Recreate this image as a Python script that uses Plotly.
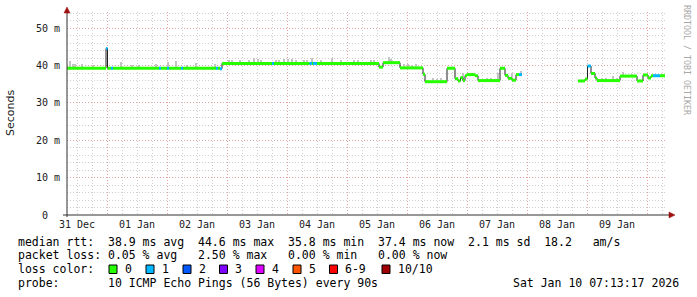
import plotly.graph_objects as go
import pandas as pd

# ---------------- data ----------------
BASE = pd.Timestamp("2026-01-01 00:00:00")
# median rtt change points: hours relative to 01 Jan 00:00, value in ms, loss count
med_hours = [-16.0, -0.4, 0.2, 1.6, 2.4, 20.8, 21.6, 24.0, 24.8, 29.6, 30.4, 43.6, 44.4, 45.2,
             46.0, 66.0, 66.8, 81.0, 82.0, 82.4, 84.0, 108.8, 110.4, 117.2, 126.4, 127.2,
             136.0, 139.2, 140.4, 141.4, 142.4, 143.2, 144.0, 147.2, 148.4, 157.2, 159.2,
             160.4, 162.0, 163.6, 164.8, 166.0, 188.4, 191.2, 192.2, 193.6, 195.2, 196.0,
             205.2, 212.0, 214.4, 216.4, 217.6, 218.4, 221.2]
med_ms = [39.3, 44.6, 39.3, 39.3, 39.3, 39.3, 39.3, 39.3, 39.3, 39.3, 39.3, 39.3, 39.3, 39.2,
          40.6, 40.6, 40.6, 40.6, 40.6, 40.6, 40.6, 39.6, 40.8, 39.4, 37.7, 35.7,
          39.3, 36.5, 35.9, 36.8, 36.0, 37.3, 37.6, 37.3, 36.0, 39.3, 37.4,
          36.6, 36.1, 37.6, 37.6, None, 35.9, 36.4, 39.9, 37.9, 36.7, 36.0,
          37.2, 35.9, 37.5, 36.7, 37.3, 37.3, 37.3]
med_loss = [0, 1, 0, 1, 0, 1, 0, 1, 0, 1, 0, 1, 0, 1,
            0, 1, 0, 1, 0, 1, 0, 0, 0, 0, 0, 0,
            0, 0, 0, 0, 0, 0, 0, 0, 0, 0, 0,
            0, 0, 0, 1, 0, 0, 0, 1, 0, 0, 0,
            0, 0, 0, 0, 0, 1, 0]
data_end_hour = 223.2

# smoke (ping spread) peaks: hour, top value in ms
smoke_hours = [-14.8, -13.6, -13.0, -10.2, -5.6, 5.6, 10.0, 12.8, 19.6, 24.4, 27.6, 32.0, 35.6, 43.2,
               48.8, 50.0, 53.2, 56.8, 58.8, 60.4, 61.6, 67.6, 68.8, 70.8, 72.4, 74.0, 75.6,
               78.8, 80.0, 82.0, 85.6, 90.0, 93.6, 98.8, 100.4, 105.6, 106.8,
               112.8, 113.6, 118.8, 120.4, 122.0, 123.6, 130.4, 132.0, 133.6, 142.4,
               152.0, 153.6, 156.4, 162.0, 165.6,
               198.0, 199.6, 202.4, 204.0, 206.4, 210.0, 219.2, 222.0]
smoke_top = [41.2, 40.4, 40.4, 40.4, 40.2, 41.0, 40.3, 40.3, 40.4, 41.0, 41.2, 40.3, 40.7, 40.4,
             41.5, 41.4, 41.4, 41.6, 42.0, 41.7, 41.6, 41.5, 41.5, 41.8, 41.9, 41.7, 41.6,
             41.6, 41.5, 42.0, 41.4, 42.0, 41.4, 41.6, 41.6, 41.5, 41.6,
             42.4, 41.8, 40.4, 40.4, 40.3, 40.4, 36.6, 36.5, 36.6, 37.9,
             36.6, 36.6, 37.9, 38.0, 38.6,
             36.6, 36.6, 37.2, 36.6, 38.2, 37.8, 37.8, 37.8]

day_labels = ["31 Dec", "01 Jan", "02 Jan", "03 Jan", "04 Jan", "05 Jan", "06 Jan", "07 Jan", "08 Jan", "09 Jan"]
day_dates = ["2025-12-31", "2026-01-01", "2026-01-02", "2026-01-03", "2026-01-04", "2026-01-05",
             "2026-01-06", "2026-01-07", "2026-01-08", "2026-01-09"]

y_ticks = [0, 10, 20, 30, 40, 50]
y_ticktext = ["0\u00a0\u00a0", "10\u00a0m", "20\u00a0m", "30\u00a0m", "40\u00a0m", "50\u00a0m"]

loss_labels = ["0", "1", "2", "3", "4", "5", "6-9", "10/10"]
loss_colors = ["#26ff00", "#00b8ff", "#0059ff", "#7e00ff", "#dd00ff", "#ff5500", "#ff0000", "#a10000"]

stat_lines = [
    "median rtt:  38.9 ms avg  44.6 ms max  35.8 ms min  37.4 ms now  2.1 ms sd  18.2   am/s",
    "packet loss: 0.05 % avg   2.50 % max   0.00 % min   0.00 % now",
]
probe_text = "probe:       10 ICMP Echo Pings (56 Bytes) every 90s"
date_text = "Sat Jan 10 07:13:17 2026"

# ---------------- helpers ----------------
W, H = 697, 297
L, R, T, B = 67, 30, 12, 82
PW, PH = W - L - R, H - T - B


def px_x(px):
    return (px - L) / PW


def px_y(py):
    return (H - B - py) / PH


def ts(h):
    return BASE + pd.Timedelta(hours=h)


def nb(s):
    return s.replace(" ", "\u00a0")


MONO = "DejaVu Sans Mono"
fig = go.Figure()

# segments
seg_end = med_hours[1:] + [data_end_hour]


def median_at(h):
    for i in range(len(med_hours)):
        if med_hours[i] <= h < seg_end[i]:
            return med_ms[i]
    return None


# smoke bars
sx, sb, sh = [], [], []
for h, top in zip(smoke_hours, smoke_top):
    m = median_at(h)
    if m is None or top <= m:
        continue
    sx.append(ts(h)); sb.append(m); sh.append(top - m)
fig.add_trace(go.Bar(x=sx, y=sh, base=sb, width=0.8 * 3600 * 1000,
                     marker=dict(color="#c4c4c4", line=dict(width=0)), showlegend=False,
                     hoverinfo="skip"))

# black step line
bx, by = [], []
for i in range(len(med_hours)):
    v = med_ms[i]
    if v is None:
        bx.append(None); by.append(None)
        continue
    bx += [ts(med_hours[i]), ts(seg_end[i])]
    by += [v, v]
fig.add_trace(go.Scatter(x=bx, y=by, mode="lines", line=dict(color="#202020", width=1),
                         showlegend=False, hoverinfo="skip"))

# coloured horizontal segments by loss
for lv in sorted(set(med_loss)):
    cx, cy = [], []
    for i in range(len(med_hours)):
        if med_ms[i] is None or med_loss[i] != lv:
            continue
        cx += [ts(med_hours[i]), ts(seg_end[i]), None]
        cy += [med_ms[i], med_ms[i], None]
    fig.add_trace(go.Scatter(x=cx, y=cy, mode="lines", line=dict(color=loss_colors[lv], width=3),
                             showlegend=False, hoverinfo="skip"))

shapes = []
# axes lines
shapes.append(dict(type="line", xref="paper", yref="paper", x0=px_x(63), x1=px_x(670),
                   y0=px_y(215), y1=px_y(215), line=dict(color="#303030", width=1)))
shapes.append(dict(type="line", xref="paper", yref="paper", x0=px_x(67), x1=px_x(67),
                   y0=px_y(217), y1=px_y(11), line=dict(color="#303030", width=1)))


def tri(p):
    pts = [(px_x(a), px_y(b)) for a, b in p]
    return "M %f %f L %f %f L %f %f Z" % (pts[0] + pts[1] + pts[2])


shapes.append(dict(type="path", xref="paper", yref="paper", path=tri([(67, 7), (64, 13), (70, 13)]),
                   fillcolor="#a01010", line=dict(color="#a01010", width=0.5)))
shapes.append(dict(type="path", xref="paper", yref="paper", path=tri([(675, 215), (669, 212), (669, 218)]),
                   fillcolor="#a01010", line=dict(color="#a01010", width=0.5)))

annotations = []
# x tick labels at noon of each day
for lab, d in zip(day_labels, day_dates):
    annotations.append(dict(x=pd.Timestamp(d) + pd.Timedelta(hours=12), xref="x", y=px_y(224.5),
                            yref="paper", text=nb(lab), showarrow=False, xanchor="center",
                            yanchor="middle", font=dict(family=MONO, size=10, color="#202020")))

# y title
annotations.append(dict(x=px_x(11), y=px_y(113), xref="paper", yref="paper", text="Seconds",
                        textangle=-90, showarrow=False, xanchor="center", yanchor="middle",
                        font=dict(family="DejaVu Sans", size=11, color="#202020")))
# watermark
annotations.append(dict(x=px_x(687), y=px_y(60), xref="paper", yref="paper",
                        text=nb("RRDTOOL / TOBI OETIKER"), textangle=90, showarrow=False,
                        xanchor="center", yanchor="middle",
                        font=dict(family=MONO, size=8.3, color="#a8a8a8")))

LF = dict(family=MONO, size=11.5, color="#000000")
line_y = [241.7, 255.3, 269.0, 282.7]
for k, s in enumerate(stat_lines):
    annotations.append(dict(x=px_x(16), y=px_y(line_y[k]), xref="paper", yref="paper",
                            text=nb(s), showarrow=False, xanchor="left", yanchor="middle", font=LF))
annotations.append(dict(x=px_x(16), y=px_y(line_y[2]), xref="paper", yref="paper",
                        text=nb("loss color:"), showarrow=False, xanchor="left", yanchor="middle", font=LF))
box_x = [109, 146, 183, 219.5, 256, 293, 329.5, 382]
for bxp, lab, col in zip(box_x, loss_labels, loss_colors):
    shapes.append(dict(type="rect", xref="paper", yref="paper", x0=px_x(bxp), x1=px_x(bxp + 8),
                       y0=px_y(273.5), y1=px_y(265), fillcolor=col, line=dict(color="#000000", width=1)))
    annotations.append(dict(x=px_x(bxp + 13.5), y=px_y(line_y[2]), xref="paper", yref="paper",
                            text=nb(lab), showarrow=False, xanchor="left", yanchor="middle", font=LF))
annotations.append(dict(x=px_x(16), y=px_y(line_y[3]), xref="paper", yref="paper",
                        text=nb(probe_text), showarrow=False, xanchor="left", yanchor="middle", font=LF))
annotations.append(dict(x=px_x(681), y=px_y(line_y[3]), xref="paper", yref="paper",
                        text=nb(date_text), showarrow=False, xanchor="right", yanchor="middle", font=LF))

MAJOR = "#e3a3a3"
MINOR = "#cfcfcf"
DASH = "1px,2px"
fig.update_layout(
    width=W, height=H, margin=dict(l=L, r=R, t=T, b=B, pad=0),
    paper_bgcolor="#ffffff", plot_bgcolor="#ffffff", showlegend=False, bargap=0,
    shapes=shapes, annotations=annotations,
    xaxis=dict(type="date", range=[ts(-16), ts(224)], showticklabels=False, ticks="",
               showgrid=True, gridcolor=MAJOR, griddash=DASH, gridwidth=1,
               tick0="2026-01-01", dtick=86400000, zeroline=False, showline=False,
               minor=dict(showgrid=True, gridcolor=MINOR, griddash=DASH, gridwidth=1,
                          tick0="2026-01-01", dtick=6 * 3600 * 1000)),
    yaxis=dict(range=[0, 54.37], tickvals=y_ticks, ticktext=y_ticktext, ticks="outside",
               ticklen=4, tickcolor="rgba(0,0,0,0)",
               tickfont=dict(family=MONO, size=10, color="#202020"),
               showgrid=True, gridcolor=MAJOR, griddash=DASH, gridwidth=1, zeroline=False,
               showline=False,
               minor=dict(showgrid=True, gridcolor=MINOR, griddash=DASH, gridwidth=1, dtick=2)),
)

fig.write_html("out.html")
